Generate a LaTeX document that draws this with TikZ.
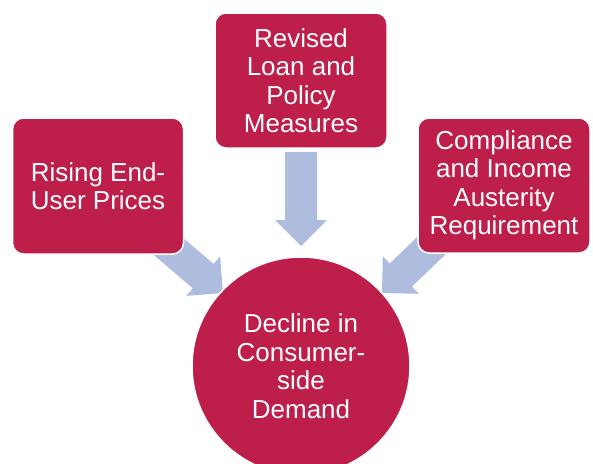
\documentclass[tikz,border=0pt]{standalone}
\usepackage{fontspec}
\setmainfont{Liberation Sans}
\definecolor{crim}{RGB}{189,31,74}
\definecolor{arrowblue}{RGB}{174,188,222}
\tikzset{
  boxnode/.style={draw=white, line width=1.5pt, fill=crim, rounded corners=11pt,
    text=white, align=center, inner sep=0pt, font=\fontsize{26}{28.5}\selectfont},
  circnode/.style={circle, fill=crim, draw=white, line width=1.5pt, text=white, align=center,
    inner sep=0pt, font=\fontsize{26}{28.5}\selectfont},
  blockarrow/.style={fill=arrowblue, draw=none}
}
\begin{document}
\begin{tikzpicture}[x=1pt,y=-1pt]
\useasboundingbox (0,0) rectangle (593,463);
\clip (0,0) rectangle (593,463);
% arrows (drawn first, boxes on top)
\fill[blockarrow] (285,152) -- (317,152) -- (317,220) -- (327,220) -- (301,246) -- (275,220) -- (285,220) -- cycle;
\fill[blockarrow] (147.2,249.3) -- (168.0,224.9) -- (213.6,263.9) -- (220.1,256.3) -- (223,293) -- (186.3,295.9) -- (192.8,288.3) -- cycle;
\fill[blockarrow] (455.2,245.1) -- (433.0,221.9) -- (389.7,263.5) -- (382.8,256.2) -- (382,293) -- (418.8,293.8) -- (411.9,286.6) -- cycle;
% boxes
\node[boxnode, minimum width=171pt, minimum height=136pt] (left) at (98,186) {Rising End-\\User Prices};
\node[boxnode, minimum width=172pt, minimum height=135pt] (top) at (301,80.5) {Revised\\Loan and\\Policy\\Measures};
\node[boxnode, minimum width=172pt, minimum height=135pt] (right) at (504,185.5) {Compliance\\and Income\\Austerity\\Requirement};
\node[circnode, minimum size=218pt] (circ) at (301,366) {Decline in\\Consumer-\\side\\Demand};
\end{tikzpicture}
\end{document}
